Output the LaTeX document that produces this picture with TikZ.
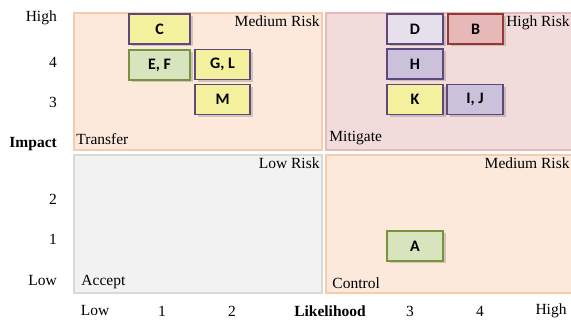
\documentclass[tikz,border=0pt]{standalone}
\usepackage{fontspec}
\setmainfont{Liberation Serif}
\newfontfamily\boxfont{Carlito}
\usetikzlibrary{positioning}
\usetikzlibrary{shadows}
\definecolor{peach}{RGB}{252, 233, 220}
\definecolor{peachline}{RGB}{248, 203, 173}
\definecolor{rose}{RGB}{242, 220, 219}
\definecolor{roseline}{RGB}{230, 185, 184}
\definecolor{grey}{RGB}{242, 242, 242}
\definecolor{greyline}{RGB}{217, 217, 217}
\definecolor{lemon}{RGB}{243, 240, 158}
\definecolor{plum}{RGB}{95, 73, 122}
\definecolor{lilac}{RGB}{204, 193, 218}
\definecolor{palelilac}{RGB}{229, 224, 236}
\definecolor{sage}{RGB}{215, 228, 189}
\definecolor{olive}{RGB}{119, 147, 60}
\definecolor{salmon}{RGB}{230, 185, 184}
\definecolor{brick}{RGB}{149, 55, 53}
\tikzset{
  quad/.style={rectangle, line width=1.5pt, inner sep=0pt},
  risk/.style={rectangle, line width=1.5pt, inner sep=0pt, minimum height=30pt,
    font=\boxfont\bfseries\fontsize{16}{18}\selectfont,
    drop shadow={shadow xshift=2.5pt, shadow yshift=-2.5pt, opacity=0.35}},
  tag/.style={font=\fontsize{15.5}{18}\selectfont, inner sep=3pt},
  axis/.style={font=\fontsize{15.5}{18}\selectfont, inner sep=0pt}
}
\begin{document}
\begin{tikzpicture}[x=1pt, y=-1pt]
\useasboundingbox (0, 0) rectangle (571, 320);
% quadrants
\node (transfer) [quad, fill=peach, draw=peachline, minimum width=248pt, minimum height=137pt] at (198.0, 81.5) {};
\node (mitigate) [quad, fill=rose, draw=roseline, minimum width=246pt, minimum height=137pt] at (449.0, 81.5) {};
\node (accept) [quad, fill=grey, draw=greyline, minimum width=248pt, minimum height=138pt] at (198.0, 224.0) {};
\node (control) [quad, fill=peach, draw=peachline, minimum width=246pt, minimum height=138pt] at (449.0, 224.0) {};
\node (t1) [tag, anchor=north east] at (transfer.north east) {Medium Risk};
\node (t2) [tag, anchor=south west, yshift=3pt] at (transfer.south west) {Transfer};
\node (t3) [tag, anchor=north east] at (mitigate.north east) {High Risk};
\node (t4) [tag, anchor=south west, xshift=1pt, yshift=3pt] at (mitigate.south west) {Mitigate};
\node (t5) [tag, anchor=north east] at (accept.north east) {Low Risk};
\node (t6) [tag, anchor=south west, xshift=5pt, yshift=2pt] at (accept.south west) {Accept};
\node (t7) [tag, anchor=north east] at (control.north east) {Medium Risk};
\node (t8) [tag, anchor=south west, xshift=4pt, yshift=2pt] at (control.south west) {Control};
% risks
\node (c) [risk, fill=lemon, draw=plum, minimum width=61pt] at (159.5, 29.0) {C};
\node (ef) [risk, fill=sage, draw=olive, minimum width=61pt] at (159.5, 65.0) {E, F};
\node (gl) [risk, fill=lemon, draw=plum, minimum width=55pt] at (222.5, 64.5) {G, L};
\node (m) [risk, fill=lemon, draw=plum, minimum width=55pt] at (222.5, 99.5) {M};
\node (d) [risk, fill=palelilac, draw=plum, minimum width=56pt] at (415.0, 29.0) {D};
\node (b) [risk, fill=salmon, draw=brick, minimum width=55pt] at (475.5, 29.0) {B};
\node (h) [risk, fill=lilac, draw=plum, minimum width=56pt] at (415.0, 64.0) {H};
\node (k) [risk, fill=lemon, draw=plum, minimum width=56pt] at (415.0, 99.5) {K};
\node (ij) [risk, fill=lilac, draw=plum, minimum width=56pt] at (475.0, 99.5) {I, J};
\node (a) [risk, fill=sage, draw=olive, minimum width=56pt] at (415.0, 246.0) {A};
% impact axis
\node (ihigh) [axis, anchor=east] at (57, 18) {High};
\node (i4) [axis, anchor=east] at (57, 62) {4};
\node (i3) [axis, anchor=east] at (57, 102) {3};
\node (impact) [axis, anchor=east, font=\bfseries\fontsize{15.5}{18}\selectfont] at (57, 144) {Impact};
\node (i2) [axis, anchor=east] at (57, 199) {2};
\node (i1) [axis, anchor=east] at (57, 239) {1};
\node (ilow) [axis, anchor=east] at (57, 281) {Low};
% likelihood axis
\node (llow) [axis] at (95, 311) {Low};
\node (l1) [axis] at (162, 311) {1};
\node (l2) [axis] at (232, 311) {2};
\node (likelihood) [axis, font=\bfseries\fontsize{15.5}{18}\selectfont] at (330, 311) {Likelihood};
\node (l3) [axis] at (410, 311) {3};
\node (l4) [axis] at (480, 311) {4};
\node (lhigh) [axis] at (551, 311) {High};
\end{tikzpicture}
\end{document}
